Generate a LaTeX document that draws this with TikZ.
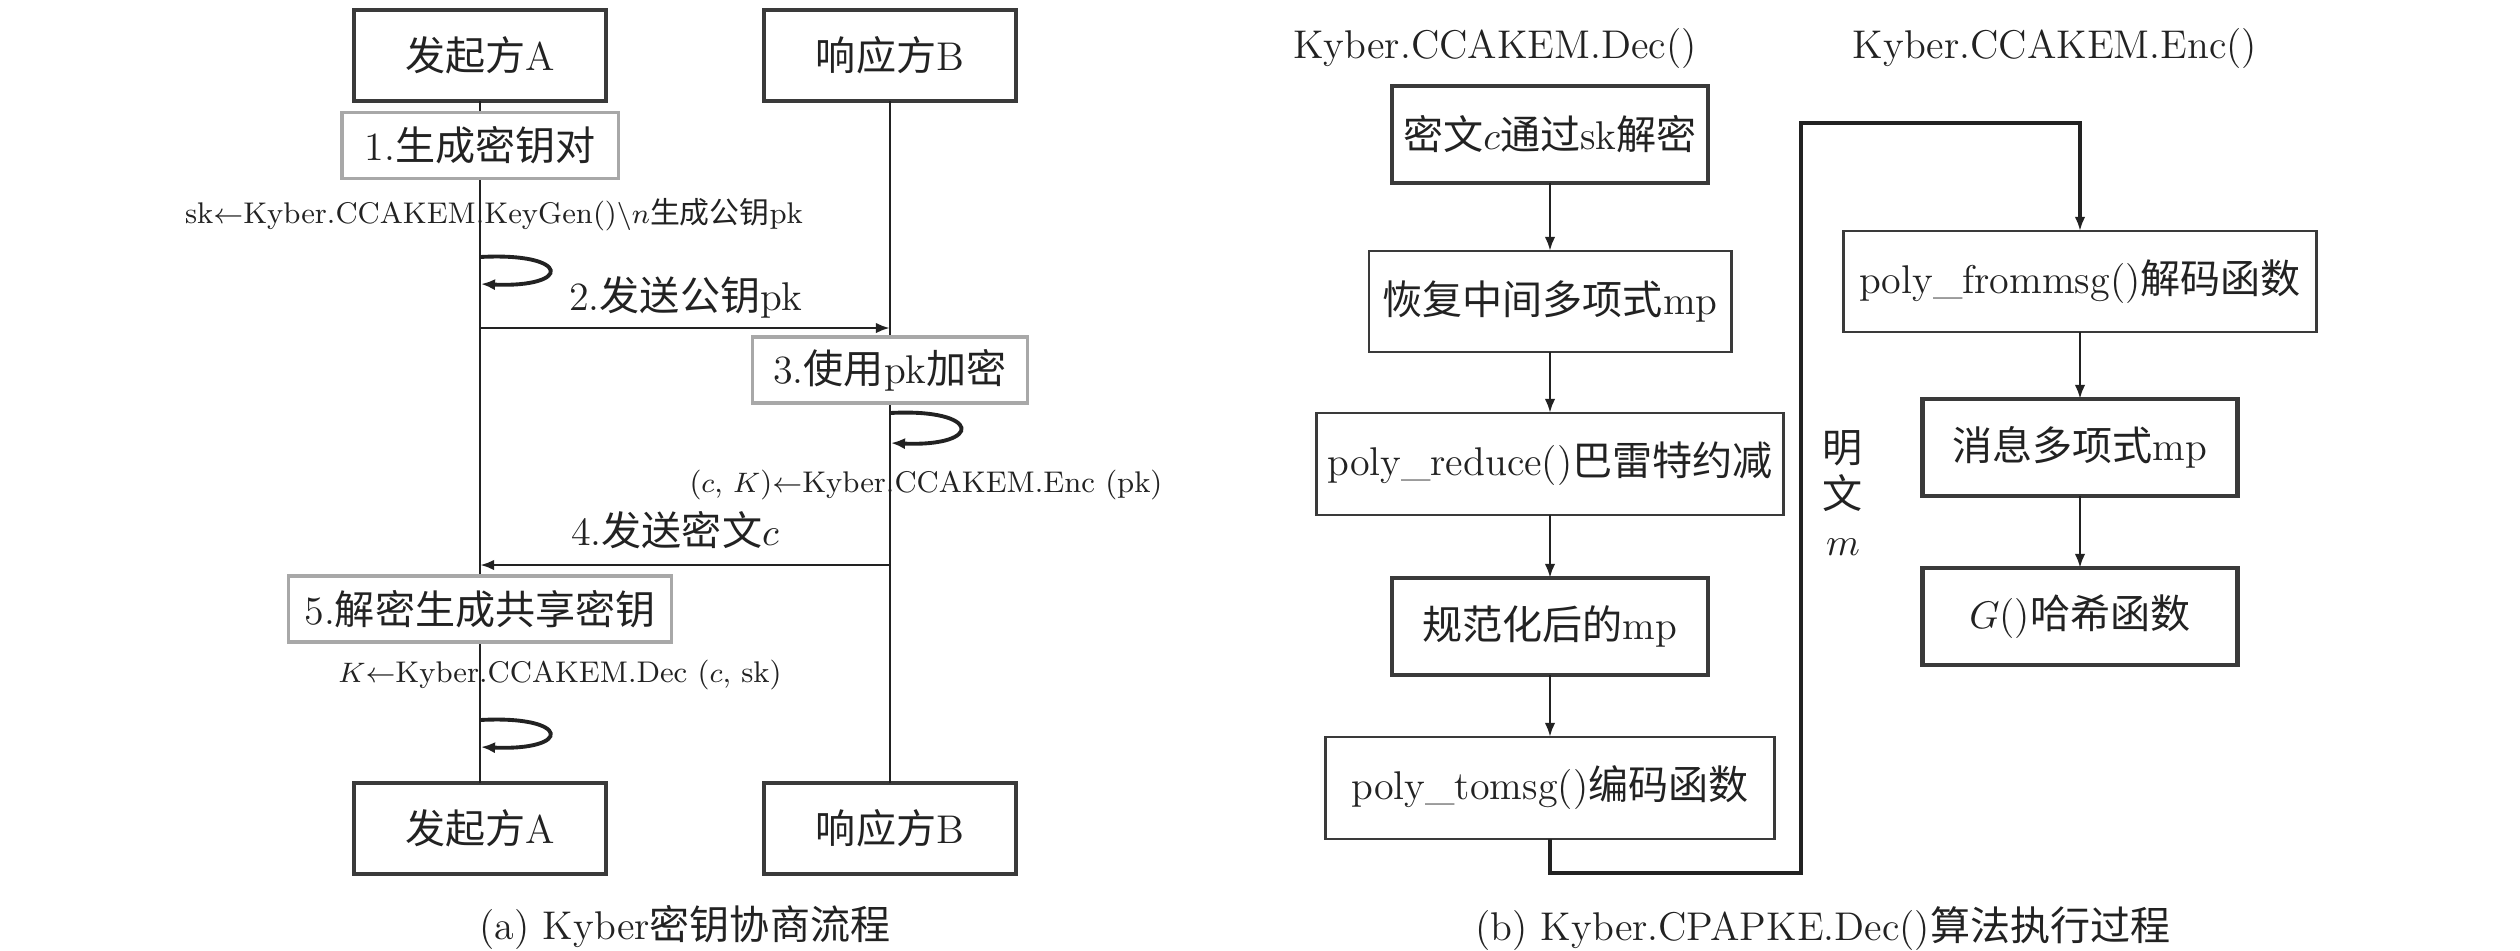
\documentclass[tikz,border=0pt]{standalone}
\usepackage{fontspec}
\newfontfamily\cjk{Noto Sans CJK SC}
\usetikzlibrary{arrows.meta}
\newcommand\fsbig{\fontsize{11.4pt}{13.1pt}\selectfont}
\newcommand\fssmall{\fontsize{8.5pt}{10pt}\selectfont}
\definecolor{edge}{HTML}{3A3A3A}
\definecolor{light}{HTML}{A8A8A8}
\definecolor{ink}{HTML}{222222}
\begin{document}
\begin{tikzpicture}[x=0.01cm,y=-0.01cm,
  every node/.style={inner sep=0pt, outer sep=0pt, font=\fsbig, text=ink},
  actor/.style={draw=edge, line width=1pt, fill=white, minimum width=2.52cm, minimum height=0.91cm},
  stepbox/.style={draw=light, line width=0.9pt, fill=white, minimum height=0.66cm},
  note/.style={font=\fssmall},
  fthin/.style={draw=edge, line width=0.8pt, fill=white},
  fthick/.style={draw=edge, line width=1.3pt, fill=white},
  life/.style={draw=ink, line width=0.8pt},
  arr/.style={draw=ink, line width=0.8pt, -{Latex[length=4pt,width=3pt]}},
  loop/.style={draw=ink, line width=1.1pt, -{Latex[length=4pt,width=3.2pt]}}
]
\useasboundingbox (0,0) rectangle (2520,950);

% ---------- (a) ----------
\node[actor] (A1) at (480,55.5) {{\cjk 发起方}A};
\node[actor] (B1) at (890,55.5) {{\cjk 响应方}B};
\node[actor] (A2) at (480,828.5) {{\cjk 发起方}A};
\node[actor] (B2) at (890,828.5) {{\cjk 响应方}B};

\draw[life] (A1.south) -- (A2.north);
\draw[life] (B1.south) -- (B2.north);

\node[stepbox, minimum width=2.76cm] (s1) at (480,145.5) {1.{\cjk 生成密钥对}};
\node[stepbox, minimum width=2.75cm] (s3) at (890,370) {3.{\cjk 使用}pk{\cjk 加密}};
\node[stepbox, minimum width=3.82cm] (s5) at (480,609) {5.{\cjk 解密生成共享密钥}};

\node[note] (l1) at (494,215) {sk$\leftarrow$Kyber.CCAKEM.KeyGen()$\backslash n${\cjk 生成公钥}pk};
\node (m2) at (686,297) {2.{\cjk 发送公钥}pk};
\node[note] (l3) at (926,485) {($c$, $K$)$\leftarrow$Kyber.CCAKEM.Enc (pk)};
\node (m4) at (675,530) {4.{\cjk 发送密文}$c$};
\node[note] (l5) at (560,675) {$K$$\leftarrow$Kyber.CCAKEM.Dec ($c$, sk)};

% self loops
\coordinate (la1) at (480,257); \coordinate (la2) at (481,284);
\draw[loop] (la1) .. controls (571,252) and (573,288) .. (la2);
\coordinate (lb1) at (890,413); \coordinate (lb2) at (891,443);
\draw[loop] (lb1) .. controls (982,408) and (984,447) .. (lb2);
\coordinate (lc1) at (480,720); \coordinate (lc2) at (481,747);
\draw[loop] (lc1) .. controls (571,715) and (573,751) .. (lc2);

% messages
\coordinate (p2a) at (480,328); \coordinate (p2b) at (890,328);
\draw[arr] (p2a) -- (p2b);
\coordinate (p4b) at (890,565); \coordinate (p4a) at (480,565);
\draw[arr] (p4b) -- (p4a);

\node (ca) at (685,927) {(a) Kyber{\cjk 密钥协商流程}};

% ---------- (b) ----------
\node (t1) at (1495,48) {Kyber.CCAKEM.Dec()};
\node (t2) at (2055,48) {Kyber.CCAKEM.Enc()};

\node[fthick, minimum width=3.16cm, minimum height=0.97cm] (r1) at (1550,134.5) {{\cjk 密文}$c${\cjk 通过}sk{\cjk 解密}};
\node[fthin, minimum width=3.62cm, minimum height=1.01cm] (r2) at (1550,301.5) {{\cjk 恢复中间多项式}mp};
\node[fthin, minimum width=4.66cm, minimum height=1.02cm] (r3) at (1550,464) {poly\_reduce(){\cjk 巴雷特约减}};
\node[fthick, minimum width=3.16cm, minimum height=0.97cm] (r4) at (1550,626.5) {{\cjk 规范化后的}mp};
\node[fthin, minimum width=4.49cm, minimum height=1.02cm] (r5) at (1550,788) {poly\_tomsg(){\cjk 编码函数}};

\node[fthin, minimum width=4.73cm, minimum height=1.01cm] (q1) at (2080,281.5) {poly\_frommsg(){\cjk 解码函数}};
\node[fthick, minimum width=3.15cm, minimum height=0.97cm] (q2) at (2080,447.5) {{\cjk 消息多项式}mp};
\node[fthick, minimum width=3.15cm, minimum height=0.97cm] (q3) at (2080,616.5) {$G$(){\cjk 哈希函数}};

\draw[arr] (r1.south) -- (r2.north);
\draw[arr] (r2.south) -- (r3.north);
\draw[arr] (r3.south) -- (r4.north);
\draw[arr] (r4.south) -- (r5.north);
\draw[arr] (q1.south) -- (q2.north);
\draw[arr] (q2.south) -- (q3.north);

\coordinate (k1) at (1801,123);
\draw[arr, line width=1pt] (r5.south) -- ++(0,34) -| (k1) -| (q1.north);

\node[align=center, font=\fsbig] (mw) at (1843,493) {{\cjk 明}\\{\cjk 文}\\$m$};

\node (cb) at (1823,929) {(b) Kyber.CPAPKE.Dec(){\cjk 算法执行过程}};
\end{tikzpicture}
\end{document}
